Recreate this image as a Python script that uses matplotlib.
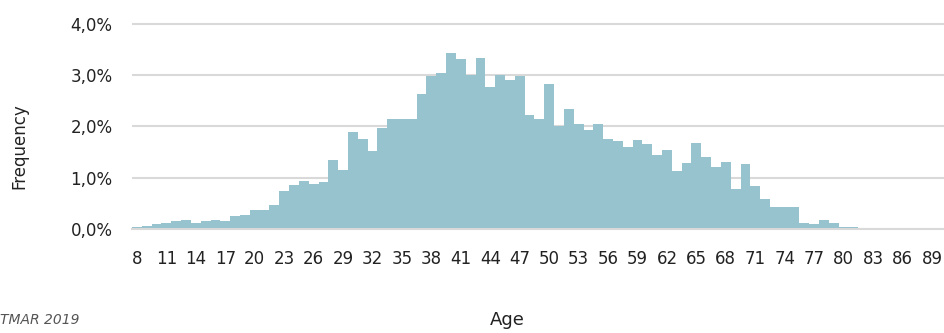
import matplotlib
matplotlib.use("Agg")
import matplotlib.pyplot as plt
import numpy as np

ages = np.arange(8, 90)
freq = [0.04, 0.05, 0.10, 0.12, 0.16, 0.17, 0.12, 0.16, 0.18, 0.16,
        0.25, 0.27, 0.37, 0.37, 0.47, 0.75, 0.86, 0.94, 0.88, 0.92,
        1.34, 1.16, 1.89, 1.76, 1.53, 1.97, 2.14, 2.14, 2.14, 2.63,
        2.99, 3.04, 3.43, 3.32, 3.00, 3.34, 2.77, 3.00, 2.91, 2.98,
        2.23, 2.15, 2.82, 2.00, 2.35, 2.05, 1.94, 2.05, 1.76, 1.72,
        1.60, 1.74, 1.65, 1.44, 1.55, 1.14, 1.29, 1.68, 1.41, 1.21,
        1.30, 0.78, 1.26, 0.83, 0.59, 0.42, 0.42, 0.42, 0.12, 0.09,
        0.18, 0.11, 0.03, 0.04, 0.01, 0.01, 0.01, 0.01, 0.01, 0.01,
        0.01, 0.01]
xticks = np.arange(8, 90, 3)
yticks = [0, 1, 2, 3, 4]
ytick_labels = ['0,0%', '1,0%', '2,0%', '3,0%', '4,0%']

fig = plt.figure(figsize=(9.45, 3.33), dpi=100)
ax = fig.add_axes([0.1397, 0.3123, 0.8603, 0.6234])

ax.bar(ages, freq, width=1.0, color='#96c3ce', linewidth=0, zorder=2)

ax.set_xlim(7.5, 90.33)
ax.set_ylim(0, 4.05)
ax.set_yticks(yticks)
ax.set_yticklabels(ytick_labels)
ax.set_xticks(xticks)
ax.yaxis.grid(True, color='#d9d9d9', linewidth=1.5, zorder=0)
ax.set_axisbelow(True)

for s in ['top', 'right', 'left']:
    ax.spines[s].set_visible(False)
ax.spines['bottom'].set_color('#d9d9d9')
ax.spines['bottom'].set_linewidth(1.5)
ax.tick_params(axis='both', length=0, labelsize=12, colors='#222222')
ax.tick_params(axis='x', pad=15)
ax.tick_params(axis='y', pad=14)

fig.text(0.021, 0.56, 'Frequency', rotation=90, ha='center', va='center',
         fontsize=12, color='#222222')
fig.text(0.537, 0.04, 'Age', ha='center', va='center', fontsize=13,
         color='#222222')
fig.text(0.0, 0.04, 'TMAR 2019', ha='left', va='center', fontsize=10,
         style='italic', color='#555555')

fig.savefig('out.png', dpi=100)
